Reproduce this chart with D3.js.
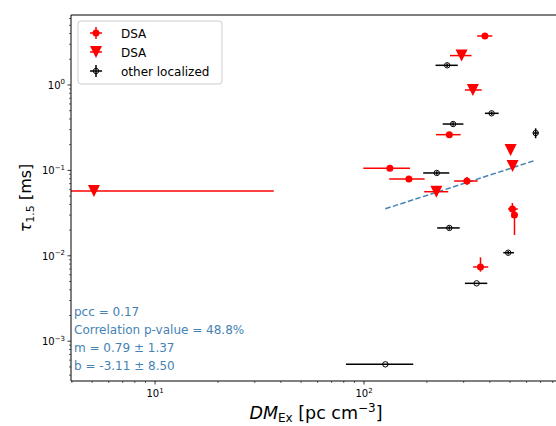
<!DOCTYPE html>
<html>
<head>
<meta charset="utf-8">
<script src="https://cdn.jsdelivr.net/npm/d3@7/dist/d3.min.js"></script>
<style>
  body { margin: 0; background: #fff; }
  svg { font-family: "DejaVu Sans", sans-serif; }
</style>
</head>
<body>
<div id="chart"></div>
<script>
// DSA detections (red circles)
const dsaX    = [379, 256, 133, 164, 311, 513, 525, 361];
const dsaXLo  = [348, 221, 99.2, 132, 270, 489, 509, 333];
const dsaXHi  = [411, 290, 166, 195, 350, 545, 545, 393];
const dsaY    = [3.75, 0.262, 0.106, 0.0793, 0.0751, 0.0353, 0.0301, 0.0074];
const dsaYLo  = [3.55, 0.250, 0.101, 0.0760, 0.0675, 0.0277, 0.0175, 0.00652];
const dsaYHi  = [3.96, 0.275, 0.111, 0.0830, 0.0838, 0.0415, 0.0373, 0.0096];

// DSA limits (red triangles)
const limX    = [293, 332, 503, 514, 222, 5.1];
const limXLo  = [258, 304, 497, 506, 194, 1];
const limXHi  = [327, 366, 510, 522, 253, 37];
const limY    = [2.21, 0.874, 0.173, 0.1127, 0.0563, 0.0574];

// other localized (black open circles)
const othX    = [250, 408, 267, 663, 223, 256, 490, 346, 126.5];
const othXLo  = [220, 379, 238, 644, 192, 224, 464, 304, 82];
const othXHi  = [281, 441, 299, 684, 256, 287, 522, 389, 172];
const othY    = [1.70, 0.466, 0.349, 0.274, 0.0933, 0.0212, 0.01087, 0.00476, 0.000536];
const othYLo  = [1.62, 0.445, 0.333, 0.238, 0.0890, 0.0202, 0.01037, 0.00476, 0.000536];
const othYHi  = [1.78, 0.488, 0.366, 0.311, 0.0978, 0.0222, 0.01140, 0.00476, 0.000536];

// fit (log-log): log10(tau) = m * log10(DM) + b
const fitM = 0.79, fitB = -3.11;
const statLines = ["pcc = 0.17", "Correlation p-value = 48.8%", "m = 0.79 \u00b1 1.37", "b = -3.11 \u00b1 8.50"];
const legendLabels = ["DSA", "DSA", "other localized"];

const width = 556, height = 426;
const pLeft = 71, pTop = 15, pRight = 560, pBottom = 381;
const blue = "#4682b4";

const svg = d3.select('#chart').append('svg')
    .attr('width', width)
    .attr('height', height);

const x = d3.scaleLog().domain([3.96, 867]).range([pLeft, pRight]);
const y = d3.scaleLog().domain([3.42e-4, 6.6]).range([pBottom, pTop]);

svg.append('defs').append('clipPath').attr('id', 'clip')
    .append('rect').attr('x', pLeft).attr('y', pTop)
    .attr('width', pRight - pLeft).attr('height', pBottom - pTop);

const plot = svg.append('g').attr('clip-path', 'url(#clip)');

function errorbars(g, xs, xlo, xhi, ys, ylo, yhi, color) {
  xs.forEach((d, i) => {
    g.append('line')
        .attr('x1', x(xlo[i])).attr('x2', x(xhi[i]))
        .attr('y1', y(ys[i])).attr('y2', y(ys[i]))
        .attr('stroke', color).attr('stroke-width', 1.5);
    if (ylo) {
      g.append('line')
          .attr('x1', x(d)).attr('x2', x(d))
          .attr('y1', y(ylo[i])).attr('y2', y(yhi[i]))
          .attr('stroke', color).attr('stroke-width', 1.5);
    }
  });
}

function triangle(cx, cy, s) {
  return `M${cx - s},${cy - s} L${cx + s},${cy - s} L${cx},${cy + s} Z`;
}

// fit line over detections range
const detX = dsaX.concat(othX);
const fitX = d3.extent(detX);
plot.append('line')
    .attr('x1', x(fitX[0])).attr('y1', y(Math.pow(10, fitM * Math.log10(fitX[0]) + fitB)))
    .attr('x2', x(fitX[1])).attr('y2', y(Math.pow(10, fitM * Math.log10(fitX[1]) + fitB)))
    .attr('stroke', blue).attr('stroke-width', 1.5)
    .attr('stroke-dasharray', '5.5,2.4');

// DSA detections
errorbars(plot, dsaX, dsaXLo, dsaXHi, dsaY, dsaYLo, dsaYHi, 'red');
plot.selectAll('.dsa').data(dsaX).enter().append('circle')
    .attr('cx', d => x(d)).attr('cy', (d, i) => y(dsaY[i]))
    .attr('r', 3.5).attr('fill', 'red');

// limits
errorbars(plot, limX, limXLo, limXHi, limY, null, null, 'red');
plot.selectAll('.lim').data(limX).enter().append('path')
    .attr('d', (d, i) => triangle(x(d), y(limY[i]), 6))
    .attr('fill', 'red');

// other localized
errorbars(plot, othX, othXLo, othXHi, othY, othYLo, othYHi, 'black');
plot.selectAll('.oth').data(othX).enter().append('circle')
    .attr('cx', d => x(d)).attr('cy', (d, i) => y(othY[i]))
    .attr('r', 2.7).attr('fill', 'none')
    .attr('stroke', 'black').attr('stroke-width', 1);

// axes frame
const axes = svg.append('g').attr('stroke', 'black').attr('stroke-width', 1);
axes.append('line').attr('x1', pLeft).attr('x2', pLeft).attr('y1', pTop).attr('y2', pBottom);
axes.append('line').attr('x1', pLeft).attr('x2', pRight).attr('y1', pBottom).attr('y2', pBottom);
axes.append('line').attr('x1', pLeft).attr('x2', pRight).attr('y1', pTop).attr('y2', pTop);

// ticks
function powLabel(sel, k) {
  sel.text('10');
  sel.append('tspan').attr('font-size', 7).attr('dy', -4.5)
      .text(String(k).replace('-', '\u2212'));
}

const xt = svg.append('g');
const [xd0, xd1] = x.domain();
for (let k = Math.floor(Math.log10(xd0)); k <= Math.ceil(Math.log10(xd1)); k++) {
  for (let m = 1; m < 10; m++) {
    const v = m * Math.pow(10, k);
    if (v < xd0 || v > xd1) continue;
    const px = x(v);
    xt.append('line').attr('x1', px).attr('x2', px)
        .attr('y1', pBottom).attr('y2', pBottom + (m === 1 ? 3.5 : 2))
        .attr('stroke', 'black').attr('stroke-width', m === 1 ? 0.8 : 0.6);
    if (m === 1) {
      powLabel(xt.append('text').attr('x', px).attr('y', pBottom + 16)
          .attr('text-anchor', 'middle').attr('font-size', 10), k);
    }
  }
}

const yt = svg.append('g');
const [yd0, yd1] = y.domain();
for (let k = Math.floor(Math.log10(yd0)); k <= Math.ceil(Math.log10(yd1)); k++) {
  for (let m = 1; m < 10; m++) {
    const v = m * Math.pow(10, k);
    if (v < yd0 || v > yd1) continue;
    const py = y(v);
    yt.append('line').attr('x1', pLeft).attr('x2', pLeft - (m === 1 ? 3.5 : 2))
        .attr('y1', py).attr('y2', py)
        .attr('stroke', 'black').attr('stroke-width', m === 1 ? 0.8 : 0.6);
    if (m === 1) {
      powLabel(yt.append('text').attr('x', pLeft - 6).attr('y', py + 4)
          .attr('text-anchor', 'end').attr('font-size', 10), k);
    }
  }
}

// axis labels
const xl = svg.append('text').attr('x', 316).attr('y', 419)
    .attr('text-anchor', 'middle').attr('font-size', 17.5);
xl.append('tspan').attr('font-style', 'italic').text('DM');
xl.append('tspan').attr('font-size', 12).attr('dy', 3).text('Ex');
xl.append('tspan').attr('dy', -3).text(' [pc cm');
xl.append('tspan').attr('font-size', 12).attr('dy', -7).text('\u22123');
xl.append('tspan').attr('dy', 7).text(']');

const yl = svg.append('text')
    .attr('transform', `translate(31,${(pTop + pBottom) / 2}) rotate(-90)`)
    .attr('text-anchor', 'middle').attr('font-size', 16);
yl.append('tspan').attr('font-style', 'italic').text('\u03c4');
yl.append('tspan').attr('font-size', 11).attr('dy', 3).text('1.5');
yl.append('tspan').attr('dy', -3).text(' [ms]');

// stats text
svg.append('g').selectAll('text').data(statLines).enter().append('text')
    .attr('x', 74).attr('y', (d, i) => 316 + i * 18)
    .attr('font-size', 12).attr('fill', blue)
    .text(d => d);

// legend
const lg = svg.append('g');
lg.append('rect').attr('x', 78).attr('y', 21).attr('width', 144).attr('height', 63)
    .attr('rx', 3).attr('fill', 'white').attr('fill-opacity', 0.8)
    .attr('stroke', '#cccccc').attr('stroke-width', 1);
const ly = [33, 52, 71];
legendLabels.forEach((t, i) => {
  lg.append('text').attr('x', 121).attr('y', ly[i] + 4.5)
      .attr('font-size', 12).text(t);
});
// red detection handle
lg.append('line').attr('x1', 90).attr('x2', 102).attr('y1', ly[0]).attr('y2', ly[0])
    .attr('stroke', 'red').attr('stroke-width', 1.5);
lg.append('line').attr('x1', 96).attr('x2', 96).attr('y1', ly[0] - 6).attr('y2', ly[0] + 6)
    .attr('stroke', 'red').attr('stroke-width', 1.5);
lg.append('circle').attr('cx', 96).attr('cy', ly[0]).attr('r', 3.5).attr('fill', 'red');
// triangle handle
lg.append('line').attr('x1', 90).attr('x2', 102).attr('y1', ly[1]).attr('y2', ly[1])
    .attr('stroke', 'red').attr('stroke-width', 1.5);
lg.append('path').attr('d', triangle(96, ly[1], 6)).attr('fill', 'red');
// black handle
lg.append('line').attr('x1', 90).attr('x2', 102).attr('y1', ly[2]).attr('y2', ly[2])
    .attr('stroke', 'black').attr('stroke-width', 1.5);
lg.append('line').attr('x1', 96).attr('x2', 96).attr('y1', ly[2] - 6).attr('y2', ly[2] + 6)
    .attr('stroke', 'black').attr('stroke-width', 1.5);
lg.append('circle').attr('cx', 96).attr('cy', ly[2]).attr('r', 2.7)
    .attr('fill', 'none').attr('stroke', 'black');
</script>
</body>
</html>
